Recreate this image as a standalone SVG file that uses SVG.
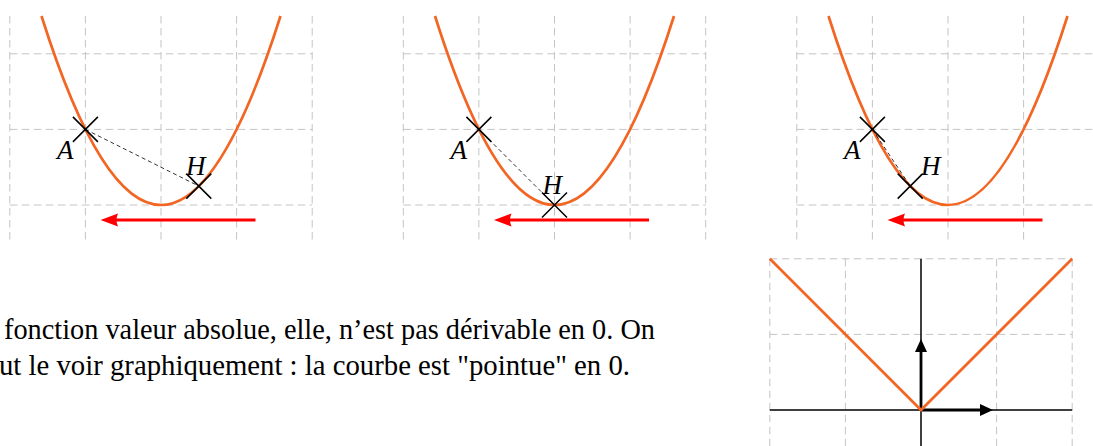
<svg xmlns="http://www.w3.org/2000/svg" width="1093" height="446" viewBox="0 0 1093 446">
<style>
.grid{stroke:#c4c4c4;stroke-width:1;stroke-dasharray:7.5 4.5;fill:none}
.curve{stroke:#f26522;stroke-width:2.7;fill:none}
.cross{stroke:#000;stroke-width:1.5;fill:none}
.sec{stroke:#000;stroke-width:0.8;stroke-dasharray:4 3;fill:none}
.move{stroke:#ff0000;stroke-width:3;fill:none}
.lbl{font-family:"Liberation Serif","Times New Roman",serif;font-style:italic;font-size:27px;fill:#000}
.txt{font-family:"Liberation Serif","Times New Roman",serif;font-size:28.5px;fill:#000}
.axis{stroke:#000;stroke-width:1.5;fill:none}
.vec{stroke:#000;stroke-width:2.8;fill:none}
</style>
<defs>
<g id="gridP">
<path class="grid" d="M-151.2,-189V37.8M-75.6,-189V37.8M0,-189V37.8M75.6,-189V37.8M151.2,-189V37.8M-151.2,0H151.2M-151.2,-75.6H151.2M-151.2,-151.2H151.2"/>
</g>
<path id="parab" class="curve" d="M-119.5,-189Q0,189 119.5,-189"/>
<g id="redArrow">
<line class="move" x1="94.5" y1="15" x2="-48" y2="15"/>
<path d="M-60.5,15L-43,8.5Q-46,15 -43,21.5Z" fill="#ff0000"/>
</g>
<path id="xmark" class="cross" d="M-12.5,-12.5L12.5,12.5M-12.5,12.5L12.5,-12.5"/>
</defs>

<g id="panel1" transform="translate(161,205)">
<use href="#gridP"/>
<use href="#parab"/>
<g id="connectors1"><line class="sec" x1="-75.6" y1="-75.6" x2="37.8" y2="-18.9"/><use href="#redArrow"/></g>
<g id="pointA1"><use href="#xmark" transform="translate(-75.6,-75.6)"/><text class="lbl" x="-104" y="-46">A</text></g>
<g id="pointH1"><use href="#xmark" transform="translate(37.8,-18.9)"/><text class="lbl" x="25" y="-30">H</text></g>
</g>

<g id="panel2" transform="translate(554.5,205)">
<use href="#gridP"/>
<use href="#parab"/>
<g id="connectors2"><line class="sec" x1="-75.6" y1="-75.6" x2="0" y2="0"/><use href="#redArrow"/></g>
<g id="pointA2"><use href="#xmark" transform="translate(-75.6,-75.6)"/><text class="lbl" x="-104" y="-46">A</text></g>
<g id="pointH2"><use href="#xmark"/><text class="lbl" x="-12" y="-11">H</text></g>
</g>

<g id="panel3" transform="translate(948,205)">
<use href="#gridP"/>
<use href="#parab"/>
<g id="connectors3"><line class="sec" x1="-75.6" y1="-75.6" x2="-37.8" y2="-18.9"/><use href="#redArrow"/></g>
<g id="pointA3"><use href="#xmark" transform="translate(-75.6,-75.6)"/><text class="lbl" x="-104" y="-46">A</text></g>
<g id="pointH3"><use href="#xmark" transform="translate(-37.8,-18.9)"/><text class="lbl" x="-27" y="-30">H</text></g>
</g>

<g id="absPanel" transform="translate(921,410)">
<path class="grid" d="M-151.2,-151.2V40M-75.6,-151.2V40M75.6,-151.2V40M151.2,-151.2V40M-151.2,-75.6H151.2M-151.2,-151.2H151.2"/>
<path class="axis" d="M-151.2,0H151.2M0,-151.2V40"/>
<g id="vectors">
<line class="vec" x1="0" y1="0" x2="62" y2="0"/>
<path d="M72,0L59,-6L59,6Z" fill="#000"/>
<line class="vec" x1="0" y1="0" x2="0" y2="-60"/>
<path d="M0,-71L-6,-58L6,-58Z" fill="#000"/>
</g>
<path class="curve" d="M-151.2,-151.2L0,0L151.2,-151.2"/>
</g>

<g id="caption">
<text class="txt" x="4" y="339" textLength="651" lengthAdjust="spacingAndGlyphs">fonction valeur absolue, elle, n’est pas dérivable en 0. On</text>
<text class="txt" x="-1" y="375" textLength="631" lengthAdjust="spacingAndGlyphs">ut le voir graphiquement : la courbe est "pointue" en 0.</text>
</g>
</svg>
